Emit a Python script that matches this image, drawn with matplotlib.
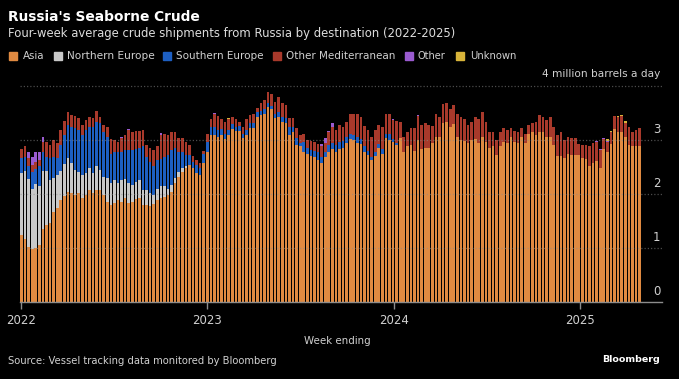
import matplotlib
matplotlib.use('Agg')
import matplotlib.pyplot as plt
from matplotlib.patches import Rectangle
import numpy as np
import pandas as pd

# ---------------- data (million barrels a day, weekly) ----------------
series_names = ["Asia", "Northern Europe", "Southern Europe",
                "Other Mediterranean", "Other", "Unknown"]

asia = [1.24, 1.16, 1.02, 0.99, 1.00, 1.06, 1.36, 1.43, 1.46, 1.67, 1.75, 1.89, 1.97,
        2.04, 2.02, 1.98, 2.01, 1.92, 1.98, 2.07, 2.01, 2.07, 2.07, 1.98, 1.86,
        1.80, 1.83, 1.89, 1.86, 1.92, 1.83, 1.86, 1.90, 1.92, 1.80, 1.80, 1.78, 1.81,
        1.89, 1.92, 1.95, 1.98, 2.04, 2.20, 2.32, 2.41, 2.49, 2.54, 2.48, 2.38, 2.35,
        2.57, 2.78, 3.09, 3.09, 3.06, 3.09, 3.01, 3.09, 3.20, 3.17, 3.17, 3.03, 3.09,
        3.22, 3.22, 3.43, 3.46, 3.48, 3.62, 3.57, 3.40, 3.43, 3.34, 3.31, 3.09, 3.15,
        2.91, 2.88, 2.77, 2.75, 2.70, 2.68, 2.63, 2.58, 2.68, 2.78, 2.83, 2.77, 2.83,
        2.85, 2.94, 3.01, 3.00, 2.95, 2.93, 2.78, 2.72, 2.63, 2.70, 2.85, 2.75, 3.03,
        3.00, 2.97, 2.91, 3.03, 2.77, 2.89, 2.91, 2.80, 3.00, 2.83, 2.85, 2.86, 2.94,
        3.06, 3.06, 3.32, 3.34, 3.25, 3.30, 3.05, 3.00, 2.99, 2.94, 3.00, 3.01, 2.95,
        3.05, 2.97, 2.86, 2.88, 2.72, 2.88, 2.97, 2.94, 3.05, 2.97, 2.95, 3.06, 2.95,
        3.12, 3.14, 3.09, 3.15, 3.14, 3.05, 3.06, 2.91, 2.70, 2.70, 2.66, 2.74, 2.72,
        2.72, 2.72, 2.66, 2.64, 2.52, 2.57, 2.62, 2.49, 2.83, 2.78, 2.93, 3.20, 3.15,
        3.14, 3.05, 2.91, 2.88, 2.89, 2.89]

northern_europe = [1.14, 1.27, 1.25, 1.11, 1.18, 1.08, 1.07, 1.00, 0.80, 0.62, 0.60, 0.54, 0.58,
                   0.62, 0.56, 0.46, 0.40, 0.43, 0.40, 0.41, 0.37, 0.45, 0.37, 0.34, 0.43,
                   0.40, 0.43, 0.31, 0.40, 0.35, 0.37, 0.31, 0.32, 0.34, 0.27, 0.27, 0.23, 0.17,
                   0.21, 0.22, 0.20, 0.12, 0.13, 0.09, 0.09, 0.07, 0.03, 0.00, 0.00, 0.00, 0.00] + [0.0] * 123

southern_europe = [0.28, 0.26, 0.25, 0.31, 0.29, 0.37, 0.35, 0.26, 0.40, 0.39, 0.31, 0.48, 0.55,
                   0.62, 0.67, 0.78, 0.78, 0.74, 0.81, 0.77, 0.87, 0.82, 0.87, 0.83, 0.77,
                   0.55, 0.52, 0.57, 0.52, 0.54, 0.61, 0.64, 0.61, 0.59, 0.81, 0.62, 0.59, 0.53,
                   0.53, 0.50, 0.54, 0.62, 0.64, 0.56, 0.37, 0.29, 0.20, 0.18, 0.12, 0.16, 0.13,
                   0.17, 0.19, 0.16, 0.16, 0.13, 0.11, 0.11, 0.10, 0.09, 0.08, 0.09, 0.09, 0.10,
                   0.09, 0.09, 0.08, 0.08, 0.09, 0.07, 0.06, 0.09, 0.09, 0.09, 0.09, 0.16, 0.10,
                   0.12, 0.06, 0.20, 0.10, 0.11, 0.12, 0.14, 0.11, 0.10, 0.13, 0.11, 0.14, 0.14,
                   0.13, 0.12, 0.11, 0.10, 0.11, 0.08, 0.10, 0.08, 0.06, 0.07, 0.08, 0.08, 0.09,
                   0.12, 0.04, 0.04] + [0.0] * 71

other_mediterranean = [0.17, 0.19, 0.14, 0.13, 0.13, 0.12, 0.19, 0.28, 0.25, 0.32, 0.28, 0.28, 0.26,
                       0.23, 0.21, 0.22, 0.21, 0.18, 0.18, 0.17, 0.15, 0.20, 0.11, 0.12, 0.19,
                       0.26, 0.22, 0.20, 0.25, 0.28, 0.38, 0.34, 0.33, 0.32, 0.31, 0.22, 0.25, 0.30,
                       0.25, 0.45, 0.43, 0.37, 0.34, 0.30, 0.25, 0.26, 0.25, 0.19, 0.10, 0.09, 0.09,
                       0.06, 0.15, 0.13, 0.24, 0.25, 0.18, 0.22, 0.19, 0.13, 0.13, 0.08, 0.13, 0.19,
                       0.15, 0.17, 0.08, 0.14, 0.17, 0.19, 0.23, 0.22, 0.27, 0.25, 0.25, 0.15, 0.15,
                       0.19, 0.15, 0.15, 0.15, 0.18, 0.17, 0.16, 0.19, 0.17, 0.23, 0.31, 0.28, 0.31,
                       0.27, 0.28, 0.37, 0.39, 0.42, 0.42, 0.38, 0.39, 0.37, 0.42, 0.35, 0.42, 0.37,
                       0.37, 0.36, 0.41, 0.31, 0.29, 0.26, 0.31, 0.43, 0.44, 0.45, 0.47, 0.42, 0.32,
                       0.43, 0.36, 0.35, 0.34, 0.32, 0.35, 0.43, 0.43, 0.39, 0.34, 0.34, 0.41, 0.43,
                       0.47, 0.37, 0.29, 0.27, 0.28, 0.27, 0.26, 0.25, 0.18, 0.20, 0.19, 0.16, 0.16,
                       0.16, 0.18, 0.25, 0.31, 0.28, 0.32, 0.37, 0.34, 0.39, 0.44, 0.34, 0.31, 0.31,
                       0.31, 0.21, 0.25, 0.27, 0.37, 0.38, 0.35, 0.32, 0.18, 0.19, 0.22, 0.24, 0.28,
                       0.30, 0.27, 0.34, 0.26, 0.30, 0.34]

other = [0.00, 0.00, 0.12, 0.15, 0.17, 0.15, 0.08, 0.00, 0.00, 0.00, 0.00, 0.00, 0.00,
         0.00, 0.00, 0.00, 0.00, 0.00, 0.00, 0.00, 0.00, 0.00, 0.00, 0.00, 0.00,
         0.00, 0.00, 0.00, 0.03, 0.00, 0.02, 0.00, 0.00, 0.00, 0.00, 0.00, 0.00, 0.00,
         0.00, 0.04, 0.00, 0.00, 0.00, 0.00, 0.00, 0.00, 0.00, 0.00, 0.00, 0.00, 0.00,
         0.00, 0.00, 0.00, 0.01, 0.00, 0.00, 0.00, 0.00, 0.00, 0.00, 0.00, 0.00, 0.00,
         0.00, 0.00, 0.00, 0.00, 0.00, 0.00, 0.00, 0.00, 0.00, 0.00, 0.00, 0.00, 0.00,
         0.00, 0.00, 0.00, 0.00, 0.00, 0.00, 0.00, 0.05, 0.08, 0.03, 0.07, 0.00, 0.00,
         0.00, 0.00, 0.00, 0.00, 0.00, 0.00, 0.00, 0.00, 0.00, 0.00, 0.00, 0.00, 0.00,
         0.00, 0.02, 0.00, 0.00, 0.00, 0.00, 0.00, 0.00, 0.02, 0.00, 0.00, 0.00, 0.00,
         0.00, 0.00, 0.00, 0.00, 0.00, 0.00, 0.00, 0.00, 0.00, 0.00, 0.00, 0.00, 0.00,
         0.00, 0.00, 0.00, 0.00, 0.00, 0.00, 0.00, 0.00, 0.00, 0.00, 0.00, 0.00, 0.00,
         0.00, 0.00, 0.00, 0.00, 0.00, 0.00, 0.00, 0.00, 0.00, 0.00, 0.00, 0.00, 0.00,
         0.00, 0.00, 0.00, 0.00, 0.00, 0.00, 0.02, 0.02, 0.02, 0.02, 0.00, 0.00, 0.00,
         0.00, 0.00, 0.00, 0.00, 0.00, 0.00]

unknown = [0.0] * 58 + [0.02] + [0.0] * 103 + [0.00, 0.01, 0.03, 0.02, 0.01, 0.02, 0.03, 0.03] + [0.0] * 4
unknown = unknown[:len(asia)] + [0.0] * (len(asia) - len(unknown))

year_ticks = ["2022", "2023", "2024", "2025"]
y_ticks = [0, 1, 2, 3]
last_week = "2025-04-27"

# ---------------- styling ----------------
colors = ["#e08a41", "#c8c8c8", "#1d5fc2", "#a8392b", "#9a5bd0", "#d8b43a"]
BG = "black"
W, H = 679, 379

plt.rcParams['font.family'] = ['Liberation Sans Narrow', 'DejaVu Sans']

fig = plt.figure(figsize=(W / 100, H / 100), dpi=100, facecolor=BG)
ax_l, ax_r, ax_t, ax_b = 20, 662, 86, 302
ax = fig.add_axes([ax_l / W, 1 - ax_b / H, (ax_r - ax_l) / W, (ax_b - ax_t) / H])
ax.set_facecolor(BG)

dates = pd.date_range(end=last_week, periods=len(asia), freq="7D")
series = [asia, northern_europe, southern_europe, other_mediterranean, other, unknown]
bottom = np.zeros(len(asia))
for vals, c in zip(series, colors):
    v = np.array(vals[:len(asia)], dtype=float)
    ax.bar(dates, v, bottom=bottom, width=5.2, color=c, linewidth=0, zorder=2)
    bottom += v

ax.set_xlim(pd.Timestamp("2021-12-30"), pd.Timestamp("2025-06-10"))
ax.set_ylim(0, 4)

for v in [1, 2, 3, 4]:
    ax.axhline(v, color="#8a8a8a", lw=0.9, ls=(0, (1, 1.6)), zorder=3, alpha=0.55, clip_on=False)

for s in ["top", "right", "left"]:
    ax.spines[s].set_visible(False)
ax.spines["bottom"].set_color("#8c8c8c")
ax.spines["bottom"].set_linewidth(1.0)
ax.spines["bottom"].set_zorder(4)

ax.set_xticks([pd.Timestamp(f"{y}-01-01") for y in year_ticks])
ax.set_xticklabels(year_ticks)
ax.tick_params(axis="x", colors="#8c8c8c", length=5, width=1, pad=4,
               labelcolor="#d0d0d0", labelsize=8.5)
ax.set_yticks([])

for v in y_ticks:
    ax.annotate(str(v), xy=(1.0, v), xycoords=("axes fraction", "data"),
                xytext=(-1, 7.5), textcoords="offset points",
                ha="right", va="center", color="#d0d0d0", fontsize=8.5)

def px(x, y):
    return x / W, 1 - y / H

renderer = fig.canvas.get_renderer()

def fit(t, width):
    bb = t.get_window_extent(renderer)
    if bb.width > 0:
        t.set_fontsize(t.get_fontsize() * width / bb.width)
    return t

title = fig.text(*px(8, 17), "Russia's Seaborne Crude", color="white",
                 fontsize=11.5, fontweight="bold", va="center", ha="left")
fit(title, 193)
sub = fig.text(*px(8, 33), "Four-week average crude shipments from Russia by destination (2022-2025)",
               color="#dcdcdc", fontsize=9.5, va="center", ha="left")
fit(sub, 449)

leg_sq_x = [13, 58, 167, 277, 409, 460]
leg_tx_x = [22.5, 67, 176, 286, 418, 470]
leg_w = [21.6, 86.6, 87.4, 109.5, 28.2, 46.3]
for name, c, sx, tx, w in zip(series_names, colors, leg_sq_x, leg_tx_x, leg_w):
    fig.patches.append(Rectangle(px(sx - 4, 52)[0:1] + (1 - 60 / H,), 8 / W, 8 / H,
                                 transform=fig.transFigure, color=c, figure=fig))
    t = fig.text(*px(tx, 56), name, color="#d0d0d0", fontsize=8.5, va="center", ha="left")
    fit(t, w)

unit = fig.text(*px(660, 74), "4 million barrels a day", color="#d0d0d0",
                fontsize=8.5, va="center", ha="right")
fit(unit, 118)

xl = fig.text(*px(337, 341), "Week ending", color="#d0d0d0", fontsize=8.5,
              va="center", ha="center")
fit(xl, 67)
src = fig.text(*px(8, 361), "Source: Vessel tracking data monitored by Bloomberg",
               color="#d0d0d0", fontsize=8.5, va="center", ha="left")
fit(src, 272)
bl = fig.text(*px(660, 359), "Bloomberg", color="white", fontsize=8.5,
              fontweight="bold", va="center", ha="right")
fit(bl, 57.6)

fig.savefig("out.png", dpi=100, facecolor=BG)
